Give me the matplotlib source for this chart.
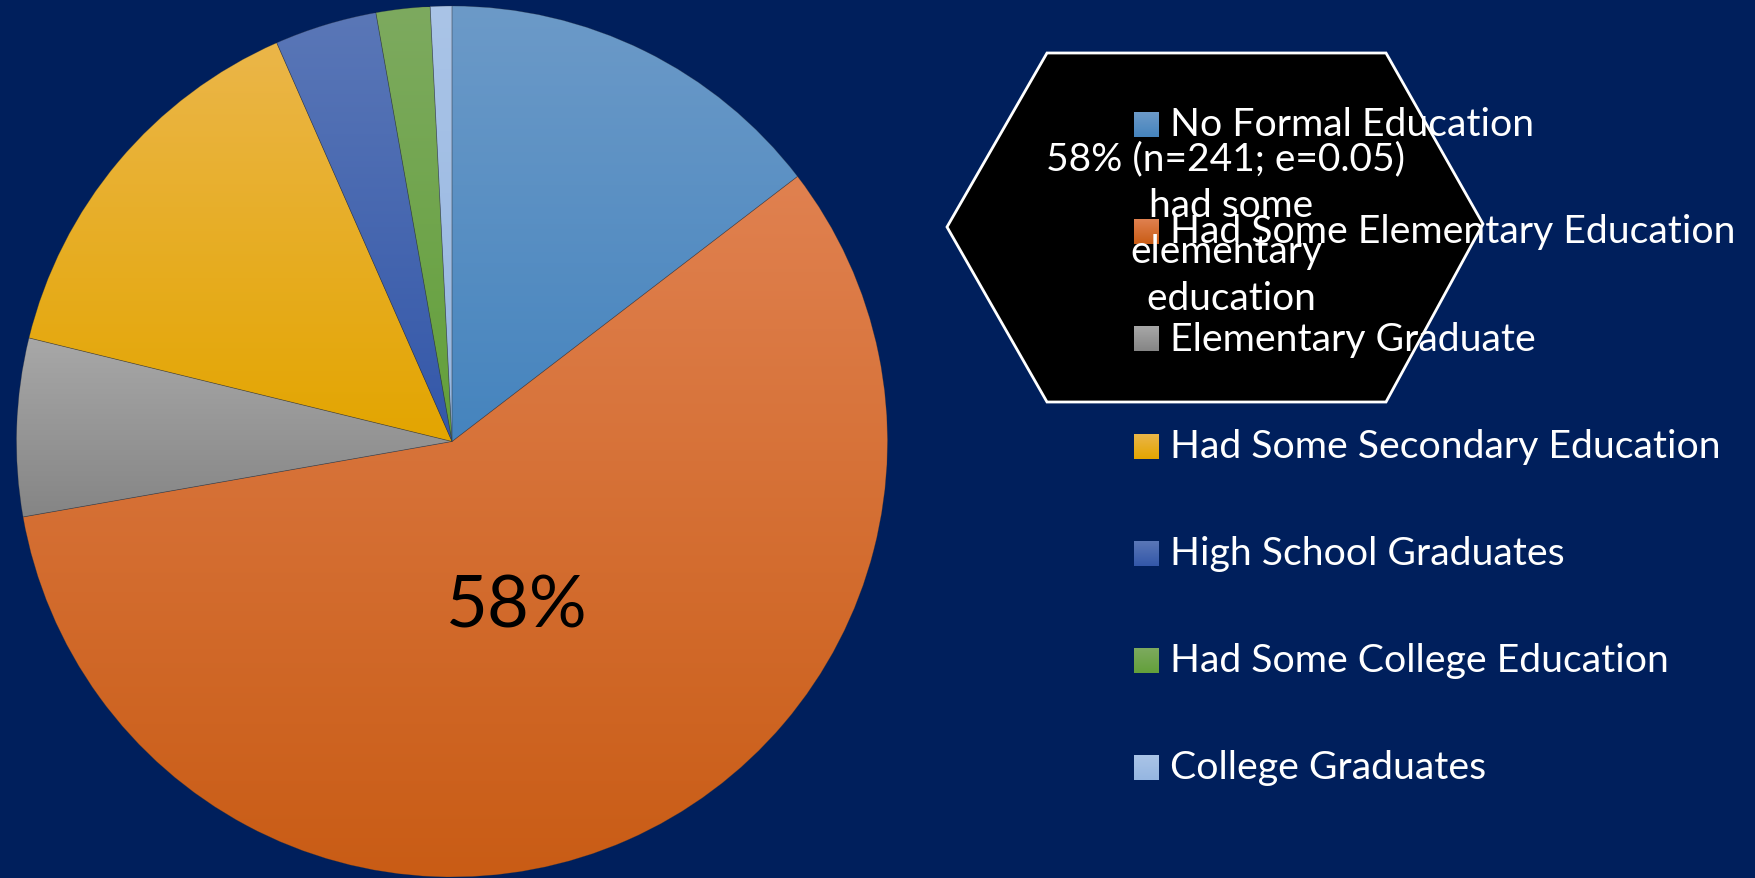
import numpy as np
import matplotlib
matplotlib.use("Agg")
import matplotlib.pyplot as plt
from matplotlib.patches import Polygon
from matplotlib.colors import to_rgb

# ===================== 数据 =====================
categories = ["No Formal Education", "Had Some Elementary Education", "Elementary Graduate",
              "Had Some Secondary Education", "High School Graduates",
              "Had Some College Education", "College Graduates"]
shares = [14.6, 57.7, 6.6, 14.6, 3.8, 2.0, 0.8]
# 渐变色：上浅下深
top_colors = ["#6C9AC8", "#E08150", "#A8A8A8", "#EBB649", "#5A77B7", "#7DAA5F", "#AAC4E7"]
bottom_colors = ["#4584BE", "#C95C15", "#858585", "#E3A500", "#3357A9", "#63A03A", "#95B6E1"]
callout_text = "58% (n=241; e=0.05)\n had some\nelementary\n education"
big_label = "58%"

BG = "#001F5C"
W, H = 1755, 879
FONT = ["Lato", "DejaVu Sans"]


def gradient(c_top, c_bot, n=256):
    t = np.linspace(0, 1, n)[:, None]
    a, b = np.array(to_rgb(c_top)), np.array(to_rgb(c_bot))
    return (a[None, :] * (1 - t) + b[None, :] * t)[:, None, :]


fig = plt.figure(figsize=(W / 100, H / 100), dpi=100, facecolor=BG)
ax = fig.add_axes([0, 0, 1, 1])
ax.set_facecolor(BG)

# ===================== 饼图 =====================
wedges, _ = ax.pie(shares, startangle=90, counterclock=False,
                   center=(452, H - 442.5), radius=435.5,
                   wedgeprops=dict(linewidth=0.5, edgecolor=(0.2, 0.2, 0.2, 0.35)))
ax.set_xlim(0, W)
ax.set_ylim(0, H)
ax.set_aspect("equal")
ax.axis("off")

for w, ct, cb in zip(wedges, top_colors, bottom_colors):
    bb = w.get_path().get_extents()
    w.set_facecolor("none")
    im = ax.imshow(gradient(ct, cb), extent=(bb.x0, bb.x1, bb.y0, bb.y1),
                   origin="upper", aspect="auto", zorder=1)
    im.set_clip_path(w)
    w.set_zorder(2)

ax.text(517, H - 607, big_label, fontsize=52, color="black", ha="center", va="center",
        family=FONT, zorder=3)

# ===================== 六边形标注 =====================
hex_pts = [(947, 228), (1047, 54), (1386, 54), (1483, 225), (1386, 403), (1047, 403)]
ax.add_patch(Polygon([(x, H - y) for x, y in hex_pts], closed=True, facecolor="black",
                     edgecolor="white", linewidth=2, zorder=4))

# ===================== 图例 =====================
row_y = [125.5, 232.5, 339.5, 447, 554, 661, 768]
for lab, y, ct, cb in zip(categories, row_y, top_colors, bottom_colors):
    ax.imshow(gradient(ct, cb), extent=(1134, 1159, H - y - 12.5, H - y + 12.5),
              origin="upper", aspect="auto", zorder=5)
    ax.text(1170, H - y, lab, fontsize=28.3, color="white", ha="left", va="center",
            family=FONT, zorder=6)

ax.text(1226, H - 229, callout_text, fontsize=28, color="white", ha="center", va="center",
        multialignment="center", linespacing=1.36, family=FONT, zorder=7)

fig.savefig("out.png", dpi=100, facecolor=BG)
